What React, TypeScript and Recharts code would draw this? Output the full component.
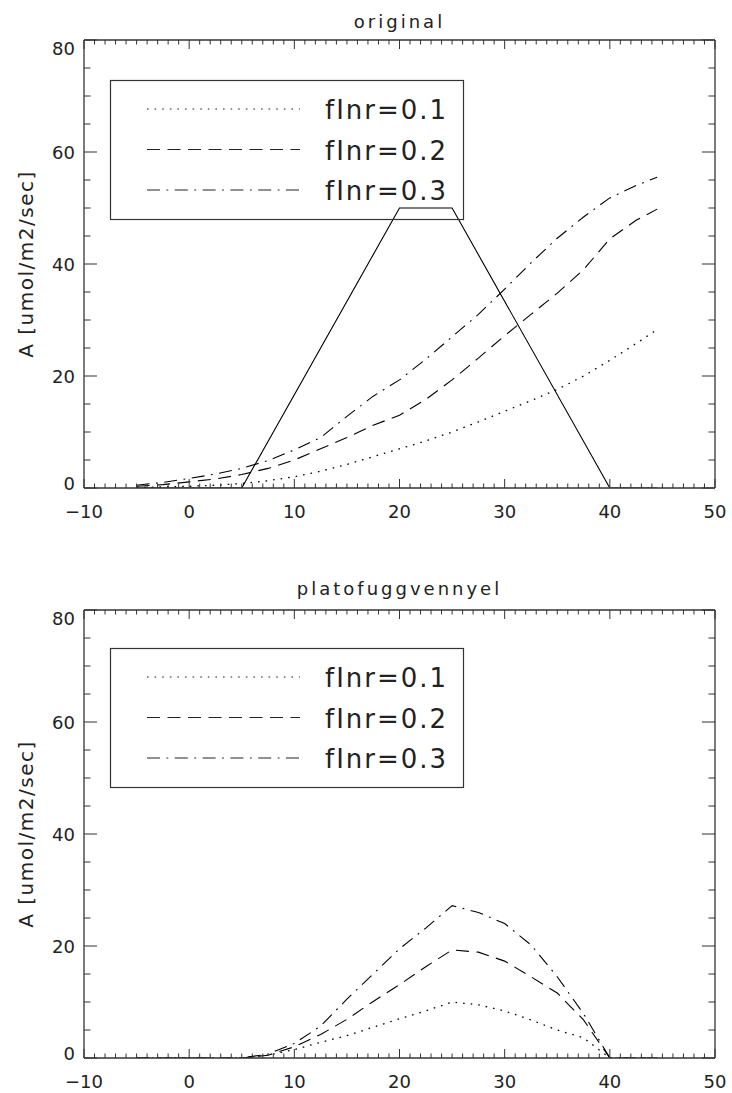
import React from "react";
import { LineChart, Line, XAxis, YAxis, Legend, Label } from "recharts";

// temperature grid (x) shared by all curves
const temps = [-5, -2.5, 0, 2.5, 5, 7.5, 10, 12.5, 15, 17.5, 20, 22.5, 25, 27.5, 30, 32.5, 35, 37.5, 40, 42.5, 44.5];

// "original" panel
const origF1 = [0.1, 0.2, 0.3, 0.5, 0.8, 1.3, 2.0, 3.0, 4.2, 5.6, 7.0, 8.4, 10.0, 11.8, 13.7, 15.6, 17.6, 20.0, 22.8, 25.8, 28.3];
const origF2 = [0.3, 0.6, 1.1, 1.6, 2.4, 3.5, 5.0, 7.0, 9.0, 11.2, 13.0, 15.8, 19.3, 23.2, 27.2, 31.0, 34.8, 39.0, 44.5, 47.8, 49.8];
const origF3 = [0.5, 1.0, 1.7, 2.5, 3.5, 4.9, 6.8, 9.0, 12.8, 16.4, 19.3, 23.0, 27.0, 31.0, 35.5, 40.2, 44.6, 48.4, 51.8, 54.0, 55.5];

// plateau (trapezoid) function drawn in the first panel
const plateauX = [-5, 5, 20, 25, 40, 44.5];
const plateauY = [0, 0, 50, 50, 0, 0];

// "platofuggvennyel" panel
const platF1 = [0, 0, 0, 0, 0, 0.5, 1.5, 2.8, 4.0, 5.5, 7.0, 8.4, 10.0, 9.5, 8.4, 6.8, 5.0, 3.6, 0, 0, 0];
const platF2 = [0, 0, 0, 0, 0, 0.5, 2.0, 4.2, 6.9, 10.1, 13.1, 16.3, 19.3, 18.9, 17.3, 14.5, 11.6, 6.8, 0, 0, 0];
const platF3 = [0, 0, 0, 0, 0, 0.7, 2.6, 5.7, 10.5, 15.0, 19.5, 23.2, 27.2, 26.0, 24.0, 20.2, 14.5, 7.9, 0, 0, 0];

const seriesNames = ["fInr=0.1", "fInr=0.2", "fInr=0.3"];

const xMajor = [-10, 0, 10, 20, 30, 40, 50];
const yMajor = [0, 20, 40, 60, 80];
const xTicks = Array.from({ length: 61 }, (_, i) => i - 10);
const yTicks = Array.from({ length: 17 }, (_, i) => i * 5);

const FONT = "'DejaVu Sans', sans-serif";
const INK = "#333";
const TEXT = "#222";
const DASHES = ["1.6 6", "13 7.5", "13 6.5 1.8 6.5"];

const fmtNum = (v: number) => (v < 0 ? `\u2212${Math.abs(v)}` : `${v}`);

function BottomTick(props: any) {
  const { x, y, payload } = props;
  const major = xMajor.includes(payload.value);
  return (
    <g>
      <line x1={x} x2={x} y1={y} y2={y - (major ? 9 : 4.5)} stroke={INK} strokeWidth={1} />
      {major && (
        <text x={x} y={y + 30} textAnchor="middle" fontSize={18} fill={TEXT} fontFamily={FONT}>
          {fmtNum(payload.value)}
        </text>
      )}
    </g>
  );
}

function TopTick(props: any) {
  const { x, y, payload } = props;
  const major = xMajor.includes(payload.value);
  return <line x1={x} x2={x} y1={y} y2={y + (major ? 9 : 4.5)} stroke={INK} strokeWidth={1} />;
}

function LeftTick(props: any) {
  const { x, y, payload } = props;
  const v = payload.value;
  const major = yMajor.includes(v);
  const base = v === 80 ? y + 15 : v === 0 ? y + 2 : y + 6.5;
  return (
    <g>
      <line x1={x} x2={x + (major ? 13 : 6.5)} y1={y} y2={y} stroke={INK} strokeWidth={1} />
      {major && (
        <text x={x - 9} y={base} textAnchor="end" fontSize={18} fill={TEXT} fontFamily={FONT}>
          {v}
        </text>
      )}
    </g>
  );
}

function RightTick(props: any) {
  const { x, y, payload } = props;
  const major = yMajor.includes(payload.value);
  return <line x1={x} x2={x - (major ? 13 : 6.5)} y1={y} y2={y} stroke={INK} strokeWidth={1} />;
}

function LegendBox(props: any) {
  const items = (props.payload || []).filter((p: any) => seriesNames.includes(p.value));
  return (
    <svg width={354} height={140} style={{ display: "block", overflow: "visible" }}>
      <rect x={0.5} y={0.5} width={353} height={139} fill="none" stroke={INK} strokeWidth={1.2} />
      {items.map((p: any, i: number) => {
        const ry = 29 + i * 40.5;
        return (
          <g key={p.value}>
            <line x1={37} x2={190} y1={ry} y2={ry} stroke="#222" strokeWidth={1.2} strokeDasharray={DASHES[seriesNames.indexOf(p.value)]} />
            <text x={215} y={ry + 10} fontSize={26} letterSpacing={2} fill={TEXT} fontFamily={FONT}>
              {p.value}
            </text>
          </g>
        );
      })}
    </svg>
  );
}

function Panel(props: { title: string; titleGap: number; f1: number[]; f2: number[]; f3: number[]; plateau: boolean; height: number; top: number; legendTop: number }) {
  const { title, titleGap, f1, f2, f3, plateau, height, top, legendTop } = props;
  const data = temps.map((x, i) => ({ x, a: f1[i], b: f2[i], c: f3[i] }));
  const plateauData = plateauX.map((x, i) => ({ x, p: plateauY[i] }));
  // axes are 1px thick boxes, so the plot area is 84..715 wide and 448 high
  const bottom = height - top - 448 - 1;
  return (
    <LineChart width={732} height={height} data={data} margin={{ top: top - 1, right: 16, bottom, left: 83 }}>
      <XAxis xAxisId="b" dataKey="x" type="number" domain={[-10, 50]} ticks={xTicks} interval={0} allowDataOverflow
        height={1} tickSize={0} tickMargin={0} tickLine={false} tick={BottomTick} axisLine={{ stroke: INK, strokeWidth: 1.3 }} />
      <XAxis xAxisId="t" orientation="top" dataKey="x" type="number" domain={[-10, 50]} ticks={xTicks} interval={0} allowDataOverflow
        height={1} tickSize={0} tickMargin={0} tickLine={false} tick={TopTick} axisLine={{ stroke: INK, strokeWidth: 1.3 }}>
        <Label content={(lp: any) => (
          <text x={lp.viewBox.x + lp.viewBox.width / 2} y={lp.viewBox.y + lp.viewBox.height - titleGap} textAnchor="middle" fontSize={18} letterSpacing={3} fill={TEXT} fontFamily={FONT}>
            {title}
          </text>
        )} />
      </XAxis>
      <YAxis yAxisId="l" type="number" domain={[0, 80]} ticks={yTicks} interval={0} allowDataOverflow
        width={1} tickSize={0} tickMargin={0} tickLine={false} tick={LeftTick} axisLine={{ stroke: INK, strokeWidth: 1.3 }}>
        <Label content={(lp: any) => {
          const cx = lp.viewBox.x + lp.viewBox.width - 51;
          const cy = lp.viewBox.y + lp.viewBox.height / 2;
          return (
            <text x={cx} y={cy} transform={`rotate(-90, ${cx}, ${cy})`} textAnchor="middle" fontSize={20} letterSpacing={1.5} fill={TEXT} fontFamily={FONT}>
              A [umol/m2/sec]
            </text>
          );
        }} />
      </YAxis>
      <YAxis yAxisId="r" orientation="right" type="number" domain={[0, 80]} ticks={yTicks} interval={0} allowDataOverflow
        width={1} tickSize={0} tickMargin={0} tickLine={false} tick={RightTick} axisLine={{ stroke: INK, strokeWidth: 1.3 }} />
      <Legend content={LegendBox} layout="vertical" align="center" verticalAlign="middle"
        wrapperStyle={{ left: 110, top: legendTop, width: 354, height: 140 }} />
      {plateau && (
        <Line xAxisId="b" yAxisId="l" data={plateauData} dataKey="p" type="linear" stroke="#000" strokeWidth={1.1}
          dot={false} activeDot={false} legendType="none" isAnimationActive={false} />
      )}
      <Line xAxisId="b" yAxisId="l" dataKey="a" name={seriesNames[0]} type="linear" stroke="#000" strokeWidth={1.3}
        strokeDasharray={DASHES[0]} dot={false} activeDot={false} isAnimationActive={false} />
      <Line xAxisId="b" yAxisId="l" dataKey="b" name={seriesNames[1]} type="linear" stroke="#000" strokeWidth={1.1}
        strokeDasharray={DASHES[1]} dot={false} activeDot={false} isAnimationActive={false} />
      <Line xAxisId="b" yAxisId="l" dataKey="c" name={seriesNames[2]} type="linear" stroke="#000" strokeWidth={1.1}
        strokeDasharray={DASHES[2]} dot={false} activeDot={false} isAnimationActive={false} />
    </LineChart>
  );
}

export default function App() {
  return (
    <div style={{ position: "absolute", left: 0, top: 0, width: 732, height: 1093, background: "#fff" }}>
      <Panel title="original" titleGap={12} f1={origF1} f2={origF2} f3={origF3} plateau height={546} top={40} legendTop={80} />
      <Panel title="platofuggvennyel" titleGap={15} f1={platF1} f2={platF2} f3={platF3} plateau={false} height={547} top={64} legendTop={102} />
    </div>
  );
}
